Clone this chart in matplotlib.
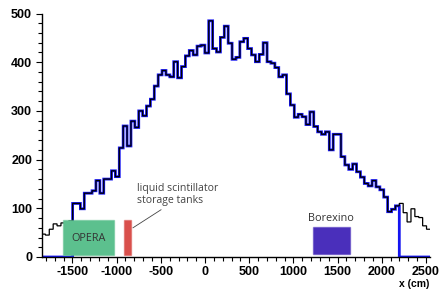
import numpy as np
import matplotlib
matplotlib.use("Agg")
import matplotlib.pyplot as plt
from matplotlib.patches import Rectangle
from matplotlib.ticker import MultipleLocator

plt.rcParams['axes.unicode_minus'] = False

# Histogram binning (cm)
x_min, x_max, n_bins = -1850, 2550, 100

# Counts per bin
left_tail = [47, 45, 57, 68, 64, 70, 72, 74]          # black only
core = [110, 110, 99, 131, 131, 136, 157, 131, 160, 160, 177, 165,
        224, 269, 228, 279, 266, 300, 290, 310, 324, 351, 374, 383,
        374, 370, 401, 368, 391, 413, 424, 415, 433, 435, 419, 485,
        428, 421, 451, 474, 439, 406, 410, 442, 449, 428, 415, 401,
        416, 440, 401, 398, 389, 370, 374, 335, 312, 287, 293, 288,
        272, 298, 268, 257, 252, 257, 220, 252, 252, 206, 189, 180,
        191, 175, 164, 151, 146, 157, 144, 138, 123, 93, 98, 105]
right_tail = [110, 91, 72, 99, 83, 81, 64, 57]        # black only

# Detector boxes: (label, x0, x1, y0, y1, color)
box_labels = ["OPERA", "", "Borexino"]
box_x0 = [-1610, -915, 1220]
box_x1 = [-1025, -835, 1640]
box_y0 = [5, 5, 6]
box_y1 = [75, 76, 61]
box_colors = ["#5cc08e", "#d9504c", "#4a2fbb"]

# Pointer line for the storage tanks label (data coords)
pointer_x = [-815, -498]
pointer_y = [60, 97]

x_ticks = [-1500, -1000, -500, 0, 500, 1000, 1500, 2000, 2500]
y_ticks = [0, 100, 200, 300, 400, 500]

edges = np.linspace(x_min, x_max, n_bins + 1)
black_vals = np.array(left_tail + core + right_tail, dtype=float)
blue_vals = np.array([0] * len(left_tail) + core + [0] * len(right_tail), dtype=float)

fig = plt.figure(figsize=(4.42, 2.9), dpi=100)
ax = fig.add_axes([0.0939, 0.1138, 0.8799, 0.8396])

sb = ax.stairs(blue_vals, edges, color="#1414f0", lw=2.0, baseline=None, zorder=2)
sk = ax.stairs(black_vals, edges, color="#000000", lw=0.9, baseline=None, zorder=2.5)
sb.set_snap(False)
sk.set_snap(False)

for lab, x0, x1, y0, y1, c in zip(box_labels, box_x0, box_x1, box_y0, box_y1, box_colors):
    ax.add_patch(Rectangle((x0, y0), x1 - x0, y1 - y0, facecolor=c,
                           edgecolor=matplotlib.colors.to_rgba(c, 0.5), lw=1.0, zorder=3))

ax.text((box_x0[0] + box_x1[0]) / 2, (box_y0[0] + box_y1[0]) / 2 - 2, box_labels[0],
        ha="center", va="center", fontsize=7.8, color="#333333", family="Open Sans", zorder=4)
ax.text((box_x0[2] + box_x1[2]) / 2, box_y1[2] + 6, box_labels[2],
        ha="center", va="bottom", fontsize=7.8, color="#333333", family="Open Sans", zorder=4)

ax.plot(pointer_x, pointer_y, color="#444444", lw=0.6, zorder=4)
ax.text(-775, 129, "liquid scintillator\nstorage tanks", fontsize=7.6, color="#444444",
        family="Open Sans", ha="left", va="center", linespacing=1.15, zorder=4)

ax.set_xlim(x_min, x_max)
ax.set_ylim(0, 500)
ax.set_xticks(x_ticks)
ax.set_yticks(y_ticks)
ax.xaxis.set_minor_locator(MultipleLocator(100))
ax.yaxis.set_minor_locator(MultipleLocator(20))
for lab in ax.get_xticklabels() + ax.get_yticklabels():
    lab.set_fontfamily("Liberation Sans")
    lab.set_fontweight("bold")
    lab.set_fontsize(9)
ax.tick_params(which="major", direction="out", length=4.3, width=0.8, pad=2.5)
ax.tick_params(which="minor", direction="out", length=2.6, width=0.8)

for s in ["top", "right"]:
    ax.spines[s].set_visible(False)
for s in ["left", "bottom"]:
    ax.spines[s].set_linewidth(1.0)

fig.text(429 / 442, 1 - 284 / 290, "x (cm)", ha="right", va="center",
         fontsize=7.5, fontweight="bold", family="Liberation Sans")

fig.savefig("out.png", dpi=100)
